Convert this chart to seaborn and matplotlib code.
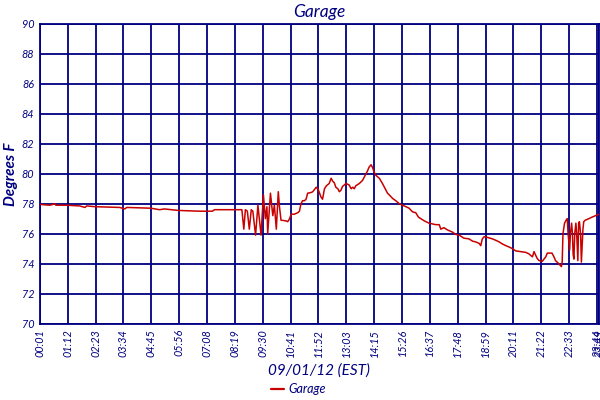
import numpy as np
import pandas as pd
import seaborn as sns
import matplotlib
matplotlib.use("Agg")
import matplotlib.pyplot as plt

# ---- data (minutes after midnight, degrees F) ----
minutes = [1, 27, 40, 42, 70, 103, 116, 121, 142, 205, 218, 223, 284, 307, 319, 355, 409, 442, 447, 514,
           517, 522, 526, 531, 536, 541, 545, 552, 558, 566, 572, 577, 581, 583, 590, 596, 600, 605, 610, 613,
           617, 630, 634, 638, 643, 651, 660, 664, 668, 672, 677, 681, 685, 694, 698, 707, 712, 719, 723, 728,
           733, 740, 745, 749, 753, 757, 762, 766, 770, 774, 783, 791, 796, 800, 804, 808, 817, 825, 830, 834,
           838, 842, 847, 851, 855, 859, 868, 876, 885, 889, 893, 902, 910, 919, 927, 936, 944, 953, 961, 968,
           974, 983, 995, 1012, 1021, 1025, 1033, 1042, 1055, 1063, 1072, 1084, 1097, 1106, 1114, 1123, 1127, 1131, 1136, 1144,
           1157, 1166, 1174, 1183, 1191, 1200, 1208, 1216, 1229, 1242, 1250, 1259, 1263, 1271, 1276, 1284, 1293, 1297, 1309, 1314,
           1318, 1326, 1333, 1335, 1337, 1341, 1345, 1348, 1350, 1354, 1356, 1359, 1361, 1363, 1365, 1367, 1370, 1372, 1375, 1377,
           1379, 1382, 1384, 1388, 1390, 1394, 1403, 1411, 1420, 1429]
temps = [77.95, 77.9, 78.0, 77.9, 77.9, 77.85, 77.75, 77.85, 77.8, 77.75, 77.65, 77.75, 77.7, 77.6, 77.65, 77.55, 77.5, 77.5, 77.6, 77.6,
         77.6, 76.3, 77.6, 77.5, 76.3, 77.6, 77.5, 75.9, 77.9, 75.9, 78.6, 77.0, 77.8, 76.0, 78.7, 77.2, 77.9, 76.3, 78.8, 77.8,
         76.9, 76.85, 76.8, 76.95, 77.3, 77.3, 77.4, 77.5, 78.0, 78.2, 78.2, 78.3, 78.7, 78.75, 78.8, 79.1, 78.95, 78.45, 78.3, 79.0,
         79.2, 79.35, 79.7, 79.5, 79.4, 79.1, 79.0, 78.8, 78.9, 79.15, 79.35, 79.25, 79.0, 79.1, 79.0, 79.2, 79.35, 79.55, 79.8, 80.0,
         80.2, 80.45, 80.6, 80.4, 80.1, 79.9, 79.7, 79.35, 78.9, 78.7, 78.6, 78.35, 78.2, 78.0, 77.9, 77.8, 77.7, 77.45, 77.4, 77.1,
         77.0, 76.85, 76.7, 76.6, 76.6, 76.3, 76.4, 76.25, 76.1, 75.95, 75.9, 75.7, 75.65, 75.5, 75.45, 75.35, 75.2, 75.65, 75.8, 75.75,
         75.65, 75.55, 75.45, 75.3, 75.2, 75.1, 75.0, 74.85, 74.8, 74.75, 74.65, 74.45, 74.8, 74.35, 74.2, 74.15, 74.45, 74.7, 74.7, 74.45,
         74.2, 74.0, 73.8, 74.1, 76.0, 76.7, 76.9, 77.0, 76.0, 74.9, 76.0, 76.7, 76.1, 74.6, 74.3, 76.0, 76.7, 76.0, 74.2, 76.7,
         76.8, 76.0, 74.1, 76.3, 76.8, 76.9, 77.0, 77.1, 77.2, 77.3]

tick_labels = ["00:01", "01:12", "02:23", "03:34", "04:45", "05:56", "07:08", "08:19", "09:30", "10:41",
               "11:52", "13:03", "14:15", "15:26", "16:37", "17:48", "18:59", "20:11", "21:22", "22:33",
               "23:44", "23:49"]
y_ticks = [70, 72, 74, 76, 78, 80, 82, 84, 86, 88, 90]

series_name = "Garage"
title = "Garage"
x_title = "09/01/12 (EST)"
y_title = "Degrees F"

df = pd.DataFrame({"minute": minutes, "temp": temps, "series": series_name})

sns.set_style("white")
plt.rcParams["font.family"] = ["Lato", "DejaVu Sans"]

navy = "#000080"
red = "#C80000"

fig = plt.figure(figsize=(6, 4), dpi=100)
ax = fig.add_axes([39.8 / 600, 1 - 323.5 / 400, (599 - 39.8) / 600, (323.5 - 24) / 400])

sns.lineplot(data=df, x="minute", y="temp", hue="series", palette=[red], ax=ax,
             linewidth=1.1, legend=True, zorder=3)

tick_pos = [1 + 71.15 * k for k in range(21)] + [1429]
ax.set_xlim(1, 1429)
ax.set_ylim(70, 90)
ax.set_xticks(tick_pos)
ax.set_xticklabels(tick_labels, rotation=90, fontsize=7.8, color=navy, style="italic")
ax.set_yticks(y_ticks)
ax.set_yticklabels([str(v) for v in y_ticks], fontsize=7.8, color=navy, style="italic")
ax.tick_params(length=0, pad=4)

ax.grid(True, color=navy, linewidth=1.3)
ax.set_axisbelow(True)
for s in ax.spines.values():
    s.set_color(navy)
    s.set_linewidth(1.3)

ax.set_title(title, fontsize=12.5, color=navy, style="italic", pad=5)
ax.set_xlabel(x_title, fontsize=11, color=navy, style="italic", labelpad=5)
ax.set_ylabel(y_title, fontsize=11, color=navy, style="italic", fontweight="bold", labelpad=3)

leg = ax.legend(loc="center", bbox_to_anchor=(0.462, -0.219), frameon=False,
                fontsize=9, handlelength=1.1, handletextpad=0.3, borderpad=0.1)
for t in leg.get_texts():
    t.set_color(navy)
    t.set_style("italic")
for h in leg.get_lines():
    h.set_linewidth(1.6)

fig.savefig("out.png", dpi=100)
